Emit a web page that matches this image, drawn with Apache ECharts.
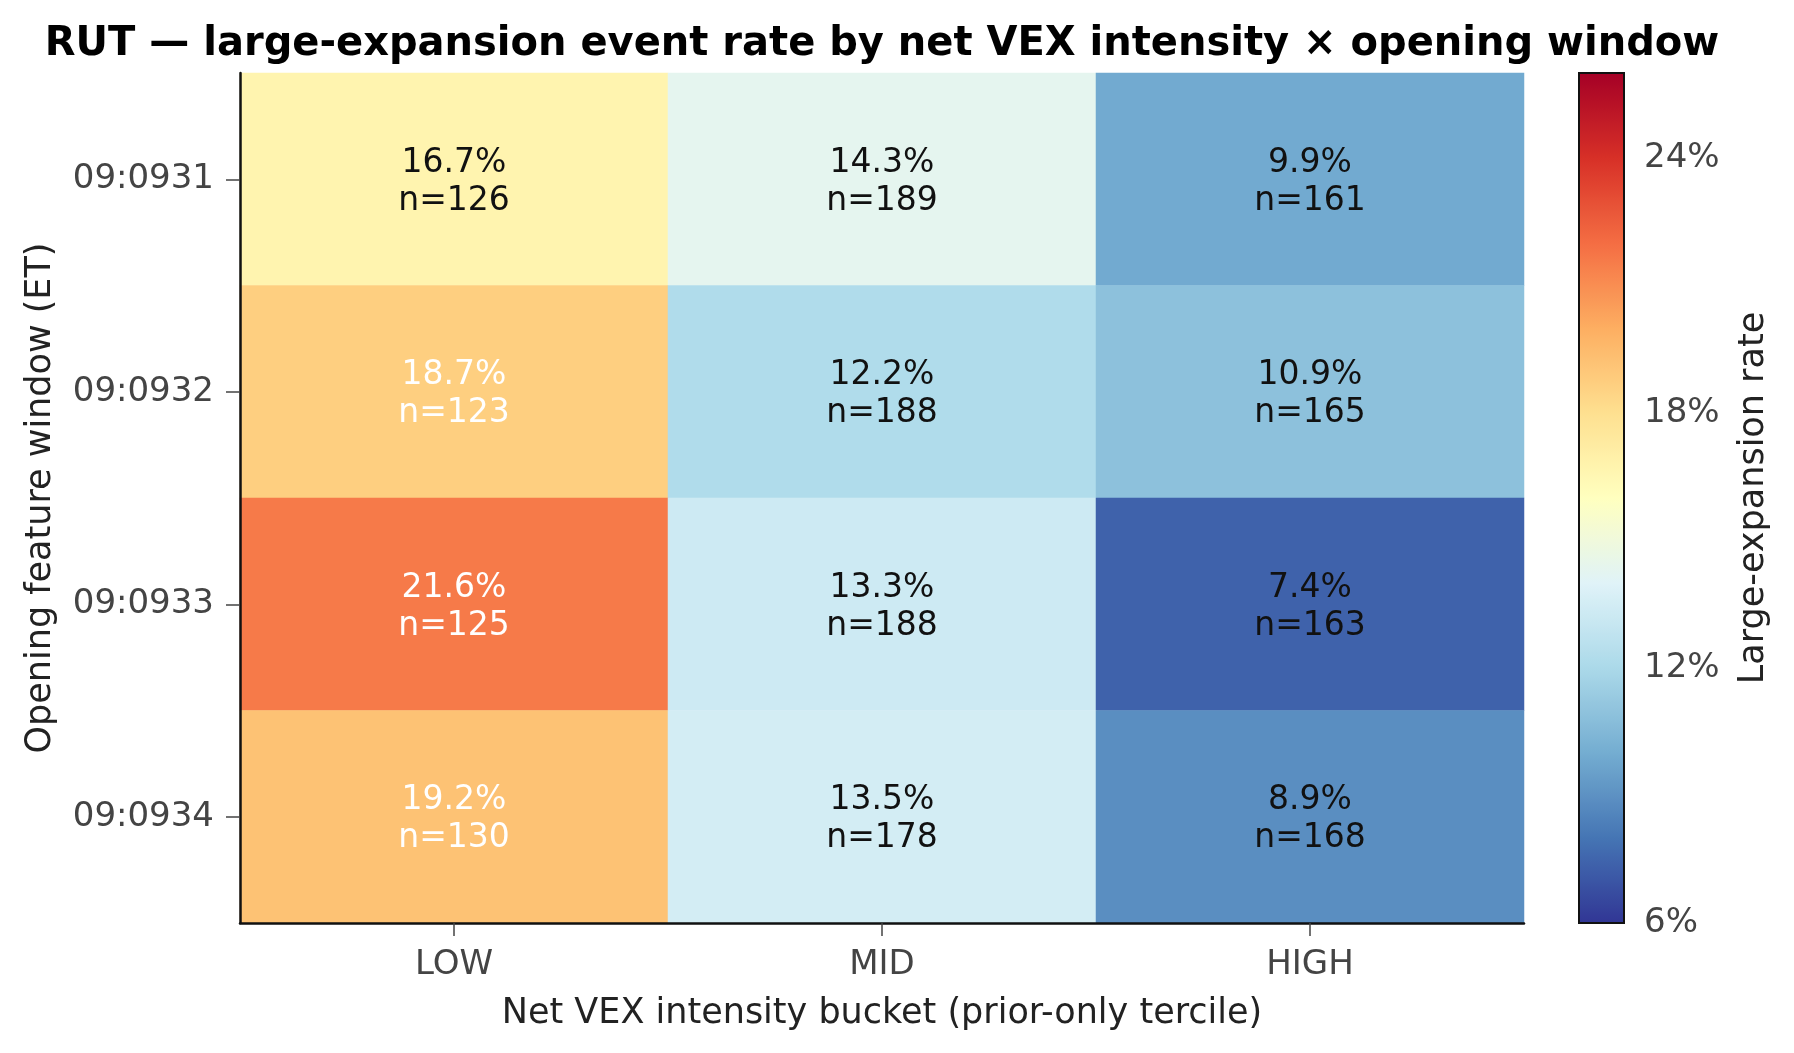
<!DOCTYPE html>
<html>
<head>
<meta charset="utf-8">
<script src="https://cdn.jsdelivr.net/npm/echarts@6/dist/echarts.min.js"></script>
<style>
  html, body { margin: 0; padding: 0; background: #fff; }
  #chart { width: 1794px; height: 1053px; }
</style>
</head>
<body>
<div id="chart"></div>
<script>
// opening windows (rows, top to bottom) and VEX buckets (columns)
const windows = ['09:0931', '09:0932', '09:0933', '09:0934'];
const buckets = ['LOW', 'MID', 'HIGH'];

// large-expansion rate (%) per window x bucket
const rates = [
  [16.7, 14.3, 9.9],
  [18.7, 12.2, 10.9],
  [21.6, 13.3, 7.4],
  [19.2, 13.5, 8.9]
];
// sample counts
const counts = [
  [126, 189, 161],
  [123, 188, 165],
  [125, 188, 163],
  [130, 178, 168]
];

// colorbar range + ticks
const cbMin = 6;
const cbMax = 26;
const cbTicks = [6, 12, 18, 24];

// RdYlBu reversed
const rdylbu_r = ['#313695', '#4575b4', '#74add1', '#abd9e9', '#e0f3f8', '#ffffbf',
  '#fee090', '#fdae61', '#f46d43', '#d73027', '#a50026'];

const font = 'DejaVu Sans';

let cells = [];
rates.forEach((row, r) => {
  row.forEach((v, c) => {
    cells.push({
      value: [c, r, v],
      label: { color: v >= 18 ? '#ffffff' : '#111111' }
    });
  });
});

const chart = echarts.init(document.getElementById('chart'));
const option = {
  animation: false,
  backgroundColor: '#fff',
  title: {
    text: 'RUT — large-expansion event rate by net VEX intensity × opening window',
    left: 877,
    textAlign: 'center',
    top: 20,
    textStyle: { fontFamily: font, fontSize: 40, fontWeight: 'bold', color: '#000' }
  },
  grid: [
    { left: 240, top: 73, width: 1284, height: 850 },
    { left: 1579, top: 73, width: 45, height: 850, show: true, z: 10,
      backgroundColor: 'transparent', borderColor: '#111', borderWidth: 2 }
  ],
  xAxis: [
    {
      type: 'category',
      data: buckets,
      gridIndex: 0,
      z: 5,
      axisLine: { show: true, lineStyle: { color: '#111', width: 2.5 } },
      axisTick: { show: true, alignWithLabel: true, length: 13, lineStyle: { color: '#444', width: 1.5 } },
      axisLabel: { fontFamily: font, fontSize: 34, color: '#444', margin: 25 },
      splitLine: { show: false },
      name: 'Net VEX intensity bucket (prior-only tercile)',
      nameLocation: 'middle',
      nameGap: 73,
      nameTextStyle: { fontFamily: font, fontSize: 35, color: '#222' }
    },
    { type: 'value', gridIndex: 1, show: false, min: 0, max: 1 }
  ],
  yAxis: [
    {
      type: 'category',
      data: windows,
      inverse: true,
      gridIndex: 0,
      z: 5,
      axisLine: { show: true, lineStyle: { color: '#111', width: 2.5 } },
      axisTick: { show: true, alignWithLabel: true, length: 14, lineStyle: { color: '#444', width: 1.5 } },
      axisLabel: { fontFamily: font, fontSize: 34, color: '#444', margin: 26 },
      splitLine: { show: false },
      name: 'Opening feature window (ET)',
      nameLocation: 'middle',
      nameGap: 182,
      nameTextStyle: { fontFamily: font, fontSize: 35, color: '#222' }
    },
    {
      type: 'value',
      gridIndex: 1,
      position: 'right',
      min: cbMin,
      max: cbMax,
      axisLine: { show: false },
      axisTick: { show: true, customValues: cbTicks, length: 12, lineStyle: { color: '#444', width: 1.5 } },
      axisLabel: { customValues: cbTicks, fontFamily: font, fontSize: 34, color: '#444', margin: 20, formatter: '{value}%' },
      splitLine: { show: false },
      name: 'Large-expansion rate',
      nameLocation: 'middle',
      nameRotate: 90,
      nameGap: 112,
      nameTextStyle: { fontFamily: font, fontSize: 35, color: '#222' }
    }
  ],
  visualMap: {
    type: 'continuous',
    min: cbMin,
    max: cbMax,
    seriesIndex: 0,
    calculable: false,
    hoverLink: false,
    left: 1579,
    top: 73,
    padding: 0,
    itemWidth: 45,
    itemHeight: 850,
    text: null,
    inRange: { color: rdylbu_r }
  },
  series: [
    {
      type: 'heatmap',
      xAxisIndex: 0,
      yAxisIndex: 0,
      data: cells,
      itemStyle: { borderWidth: 0 },
      emphasis: { disabled: true },
      label: {
        show: true,
        fontFamily: font,
        fontSize: 33,
        lineHeight: 38,
        offset: [0, 3],
        formatter: function (p) {
          return p.value[2].toFixed(1) + '%\nn=' + counts[p.value[1]][p.value[0]];
        }
      }
    }
  ]
};
chart.setOption(option);
</script>
</body>
</html>
